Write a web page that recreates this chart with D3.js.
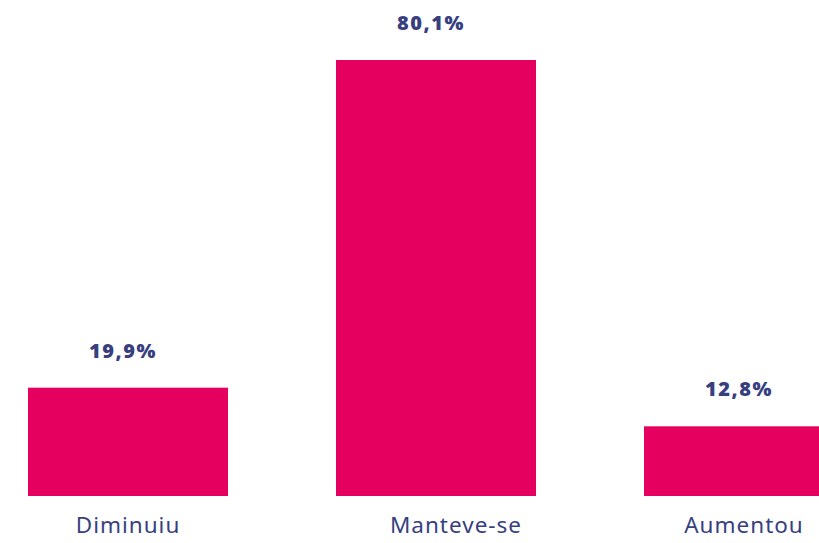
<!DOCTYPE html>
<html>
<head>
<meta charset="utf-8">
<script src="https://cdn.jsdelivr.net/npm/d3@7"></script>
<style>
  html, body { margin: 0; padding: 0; background: #fff; overflow: hidden; }
  svg { display: block; }
</style>
</head>
<body>
<div id="chart"></div>
<script>
const categories = ["Diminuiu", "Manteve-se", "Aumentou"];
const values = [19.9, 80.1, 12.8];
const valueLabels = ["19,9%", "80,1%", "12,8%"];

const width = 819, height = 543;
const barColor = "#e5005f";
const textColor = "#383f7f";
const barWidth = 200;
const baseline = 496;

const svg = d3.select("#chart").append("svg").attr("width", width).attr("height", height);

const x = d3.scalePoint().domain(categories).range([128, 744]);
const y = d3.scaleLinear().domain([0, 80.1]).range([baseline, 60]);

const data = categories.map((c, i) => ({ cat: c, value: values[i], label: valueLabels[i] }));

svg.append("g").selectAll("rect").data(data).join("rect")
    .attr("x", d => x(d.cat) - barWidth / 2)
    .attr("y", d => y(d.value))
    .attr("width", barWidth)
    .attr("height", d => y(0) - y(d.value))
    .attr("fill", barColor);

svg.append("g").selectAll("text").data(data).join("text")
    .attr("x", d => x(d.cat) - 5)
    .attr("y", d => y(d.value) - 30)
    .attr("text-anchor", "middle")
    .style("font-family", "'Open Sans', 'Noto Sans', sans-serif")
    .style("font-weight", "800")
    .style("font-size", "20px")
    .style("letter-spacing", "1.5px")
    .attr("fill", textColor)
    .text(d => d.label);

svg.append("g").selectAll("text").data(data).join("text")
    .attr("x", d => x(d.cat) + (d.cat === "Manteve-se" ? 20 : 0))
    .attr("y", 533)
    .attr("text-anchor", "middle")
    .style("font-family", "'Noto Sans', 'Open Sans', sans-serif")
    .style("font-size", "22.5px")
    .style("letter-spacing", "1px")
    .attr("fill", textColor)
    .text(d => d.cat);
</script>
</body>
</html>
